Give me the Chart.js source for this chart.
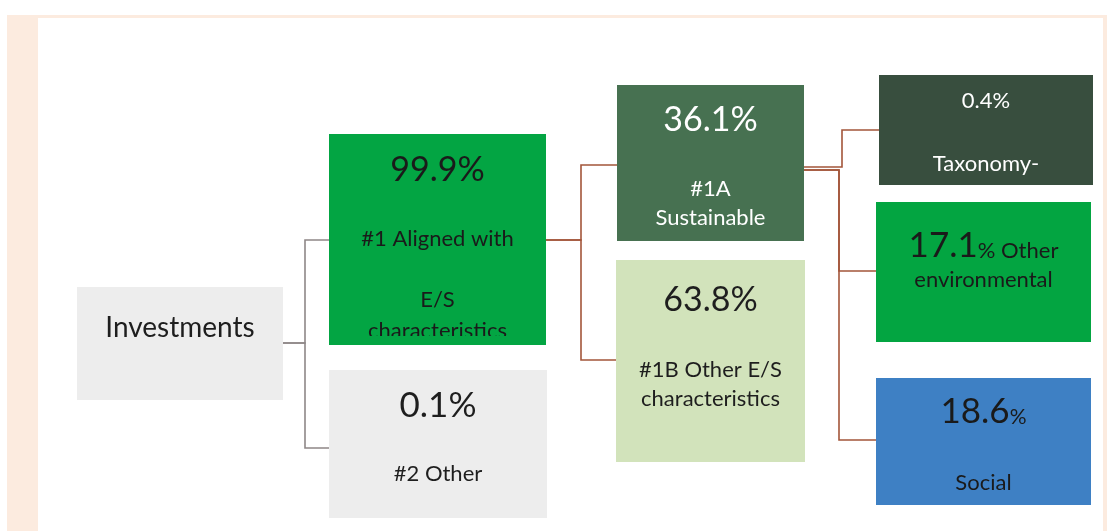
<!DOCTYPE html>
<html>
<head>
<meta charset="utf-8">
<script src="https://cdn.jsdelivr.net/npm/chart.js@4.4.0/dist/chart.umd.min.js"></script>
<style>
html, body { margin: 0; padding: 0; background: #fff; overflow: hidden; }
#wrap { position: absolute; left: 0; top: 0; width: 1107px; height: 531px; }
</style>
</head>
<body>
<div id="wrap"><canvas id="tree"></canvas></div>
<script>
// data
const nodeNames = ['Investments', '#1 Aligned with E/S characteristics', '#2 Other', '#1A Sustainable',
    '#1B Other E/S characteristics', 'Taxonomy-', 'Other environmental', 'Social'];
const nodeShares = [null, 99.9, 0.1, 36.1, 63.8, 0.4, 17.1, 18.6];
const nodeParents = [null, 0, 0, 1, 1, 3, 3, 3];

// how each name is broken over lines inside its box
const nameLines = [
    ['Investments'],
    ['#1 Aligned with', 'E/S', 'characteristics'],
    ['#2 Other'],
    ['#1A', 'Sustainable'],
    ['#1B Other E/S', 'characteristics'],
    ['Taxonomy-'],
    ['Other', 'environmental'],
    ['Social']
];

// layout (in axis units, x 0..1107, y 0..531 top-down)
const boxLayout = [
    { x0: 77,  x1: 283,  y0: 287, y1: 400, fill: '#EDEDED', ink: '#1e1e1e' },
    { x0: 329, x1: 546,  y0: 134, y1: 345, fill: '#03A543', ink: '#1a1a1a', clip: 336 },
    { x0: 329, x1: 547,  y0: 370, y1: 518, fill: '#EDEDED', ink: '#1e1e1e' },
    { x0: 617, x1: 804,  y0: 85,  y1: 241, fill: '#477151', ink: '#fff' },
    { x0: 616, x1: 805,  y0: 260, y1: 462, fill: '#D2E3BB', ink: '#1e1e1e' },
    { x0: 879, x1: 1093, y0: 75,  y1: 185, fill: '#384E3E', ink: '#fff' },
    { x0: 876, x1: 1091, y0: 202, y1: 342, fill: '#03A541', ink: '#1a1a1a' },
    { x0: 876, x1: 1091, y0: 378, y1: 505, fill: '#3E80C4', ink: '#1a1a1a' }
];

// text rows per box: y = middle of the row, runs = [kind, size]
const textLayout = [
    [{ y: 328, runs: [['name0', 28]] }],
    [{ y: 170, runs: [['pct', 34]] }, { y: 239, runs: [['name0', 22]] }, { y: 300, runs: [['name1', 22]] }, { y: 331, runs: [['name2', 22]] }],
    [{ y: 406, runs: [['pct', 35]] }, { y: 474, runs: [['name0', 22]] }],
    [{ y: 120, runs: [['pct', 34]] }, { y: 189, runs: [['name0', 22]] }, { y: 218, runs: [['name1', 22]] }],
    [{ y: 300, runs: [['pct', 34]] }, { y: 370, runs: [['name0', 22]] }, { y: 399, runs: [['name1', 22]] }],
    [{ y: 101, runs: [['pct', 22]] }, { y: 164, runs: [['name0', 22]] }],
    [{ y: 246, runs: [['num', 35], ['% ', 22], ['name0', 22]] }, { y: 280, runs: [['name1', 22]] }],
    [{ y: 412, runs: [['num', 35], ['%', 21]] }, { y: 483, runs: [['name0', 22]] }]
];

// elbow connectors, one per child: bus x, y leaving the parent, y entering the child
const edgeLayout = [
    null,
    { bus: 305, py: 343, cy: 240, color: '#8E8787' },
    { bus: 305, py: 343, cy: 448, color: '#8E8787' },
    { bus: 581, py: 240, cy: 165, color: '#A3553A' },
    { bus: 581, py: 240, cy: 360, color: '#A3553A' },
    { bus: 842, py: 167, cy: 130, color: '#A3553A' },
    { bus: 839, py: 170, cy: 271, color: '#A3553A' },
    { bus: 839, py: 170, cy: 440, color: '#A3553A' }
];

const FONT = 'Lato, "Open Sans", sans-serif';

function runText(i, kind) {
    if (kind === 'pct') return nodeShares[i].toFixed(1) + '%';
    if (kind === 'num') return nodeShares[i].toFixed(1);
    if (kind.startsWith('name')) return nameLines[i][+kind.slice(4)];
    return kind;
}

const treePlugin = {
    id: 'tree',
    beforeDraw(chart) {
        const ctx = chart.ctx;
        const sx = v => chart.scales.x.getPixelForValue(v);
        const sy = v => chart.scales.y.getPixelForValue(v);

        // page frame
        ctx.save();
        ctx.fillStyle = '#FCEBDF';
        ctx.fillRect(sx(7), sy(15), sx(1107) - sx(7), sy(531) - sy(15));
        ctx.fillStyle = '#fff';
        ctx.fillRect(sx(38), sy(18), sx(1103) - sx(38), sy(531) - sy(18));

        // connectors
        ctx.lineWidth = 1.6;
        edgeLayout.forEach((e, i) => {
            if (!e) return;
            const p = boxLayout[nodeParents[i]];
            const c = boxLayout[i];
            ctx.strokeStyle = e.color;
            ctx.beginPath();
            ctx.moveTo(sx(p.x1), sy(e.py));
            ctx.lineTo(sx(e.bus), sy(e.py));
            ctx.lineTo(sx(e.bus), sy(e.cy));
            ctx.lineTo(sx(c.x0), sy(e.cy));
            ctx.stroke();
        });

        // boxes
        boxLayout.forEach((b, i) => {
            const left = sx(b.x0), top = sy(b.y0);
            const w = sx(b.x1) - left, h = sy(b.y1) - top;
            ctx.fillStyle = b.fill;
            ctx.fillRect(left, top, w, h);

            ctx.save();
            ctx.beginPath();
            ctx.rect(left, top, w, (b.clip ? sy(b.clip) : sy(b.y1)) - top);
            ctx.clip();
            ctx.fillStyle = b.ink;
            ctx.textBaseline = 'middle';
            ctx.textAlign = 'left';
            textLayout[i].forEach(row => {
                const parts = row.runs.map(([kind, size]) => {
                    ctx.font = size + 'px ' + FONT;
                    const t = runText(i, kind);
                    return { t, size, w: ctx.measureText(t).width };
                });
                const total = parts.reduce((s, p) => s + p.w, 0);
                let x = left + w / 2 - total / 2;
                const big = Math.max(...parts.map(p => p.size));
                parts.forEach(p => {
                    ctx.font = p.size + 'px ' + FONT;
                    // keep smaller runs on the same baseline as the big one
                    const dy = (big - p.size) * 0.36;
                    ctx.fillText(p.t, x, sy(row.y) + dy);
                    x += p.w;
                });
            });
            ctx.restore();
        });
        ctx.restore();
    }
};

new Chart(document.getElementById('tree'), {
    type: 'scatter',
    data: { datasets: [] },
    options: {
        responsive: true,
        maintainAspectRatio: false,
        animation: false,
        layout: { padding: 0 },
        plugins: { legend: { display: false }, tooltip: { enabled: false } },
        scales: {
            x: { type: 'linear', min: 0, max: 1107, display: false },
            y: { type: 'linear', min: 0, max: 531, reverse: true, display: false }
        }
    },
    plugins: [treePlugin]
});
</script>
</body>
</html>
